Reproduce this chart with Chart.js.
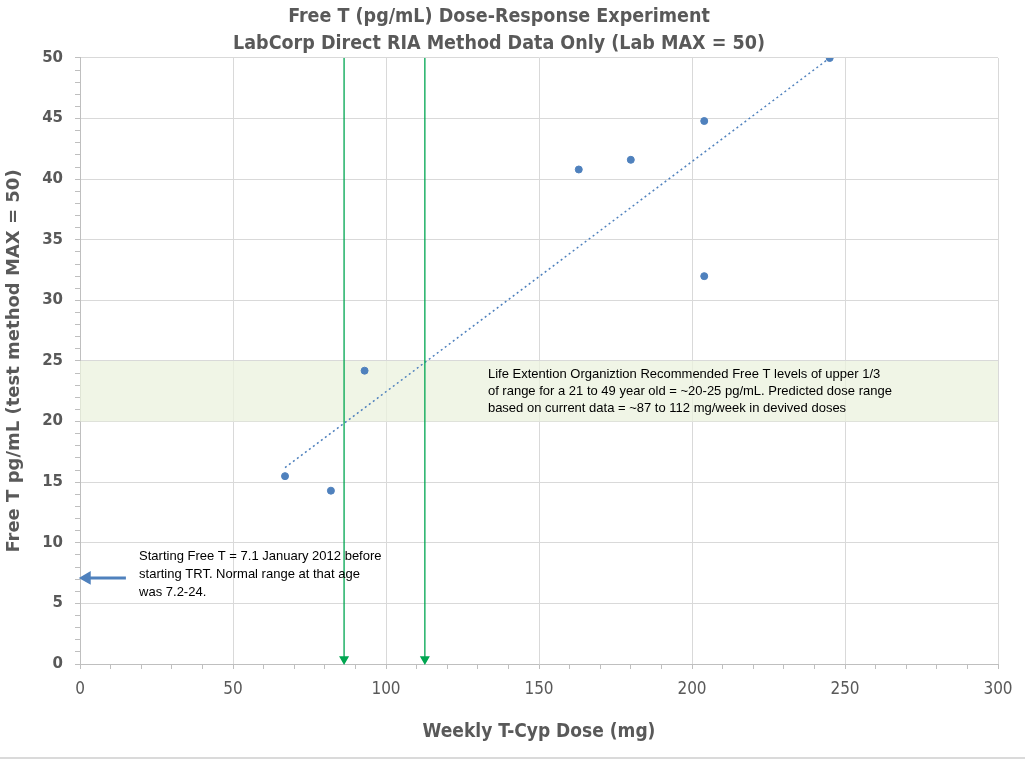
<!DOCTYPE html>
<html>
<head>
<meta charset="utf-8">
<script src="https://cdn.jsdelivr.net/npm/chart.js@4.4.0/dist/chart.umd.min.js"></script>
<style>
  body { margin: 0; background: #fff; }
  #wrap { width: 1025px; height: 760px; position: relative; }
  #edge { position: absolute; left: 0; top: 757px; width: 1025px; height: 2px; background: #dadada; }
</style>
</head>
<body>
<div id="wrap"><canvas id="myChart"></canvas><div id="edge"></div></div>
<script>
// measured data
const doses = [67, 82, 93, 163, 180, 204, 204, 245];
const freeT = [15.5, 14.3, 24.2, 40.8, 41.6, 44.8, 32.0, 50.0];

// dotted trend line ends
const trendX = [67, 245];
const trendY = [16.2, 50];

// recommended range and predicted doses
const bandY = [20, 25];
const bandX = [0, 300];
const doseRange = [86.3, 112.7];

// starting value marker
const startFreeT = 7.1;
const startArrowX = [15, 2.2];

const noteRange = [
  'Life Extention Organiztion Recommended Free T levels of upper 1/3',
  'of range for a 21 to 49 year old = ~20-25 pg/mL. Predicted dose range',
  'based on current data = ~87 to 112 mg/week in devived doses'
];
const noteStart = [
  'Starting Free T = 7.1 January 2012 before',
  'starting TRT. Normal range at that age',
  'was 7.2-24.'
];

const narrow = "'Liberation Sans Narrow', 'DejaVu Sans Condensed', sans-serif";
const textGray = '#595959';

const notesPlugin = {
  id: 'notes',
  afterDatasetsDraw(chart) {
    const c = chart.ctx, x = chart.scales.x, y = chart.scales.y;
    c.save();
    c.font = "13px 'Liberation Sans', Arial, sans-serif";
    c.fillStyle = '#000';
    c.textBaseline = 'middle';
    noteRange.forEach(function(t, i) {
      c.fillText(t, x.getPixelForValue(133.3), y.getPixelForValue(23.9) + i * 17);
    });
    noteStart.forEach(function(t, i) {
      c.fillText(t, x.getPixelForValue(19.3), y.getPixelForValue(8.9) + i * 18);
    });
    c.restore();
  }
};

const ctx = document.getElementById('myChart').getContext('2d');
new Chart(ctx, {
  type: 'scatter',
  data: {
    datasets: [
      {
        type: 'line',
        order: 10,
        data: bandX.map(function(v) { return { x: v, y: bandY[1] }; }),
        borderWidth: 0,
        pointRadius: 0,
        fill: '+1',
        backgroundColor: 'rgba(235,241,222,0.75)'
      },
      {
        type: 'line',
        order: 11,
        data: bandX.map(function(v) { return { x: v, y: bandY[0] }; }),
        borderWidth: 0,
        pointRadius: 0,
        fill: false
      },
      {
        type: 'line',
        order: 5,
        data: trendX.map(function(v, i) { return { x: v, y: trendY[i] }; }),
        borderColor: '#4f81bd',
        borderWidth: 1.5,
        borderDash: [2, 3],
        pointRadius: 0
      },
      {
        order: 0,
        data: doses.map(function(v, i) { return { x: v, y: freeT[i] }; }),
        backgroundColor: '#4f81bd',
        borderColor: '#4f81bd',
        pointRadius: 3.5
      },
      {
        type: 'line',
        order: 2,
        data: [{ x: doseRange[0], y: 50 }, { x: doseRange[0], y: 0.4 }],
        borderColor: '#00a651',
        backgroundColor: '#00a651',
        borderWidth: 1.3,
        pointRadius: [0, 4.5],
        pointStyle: 'triangle',
        rotation: 180,
        clip: false
      },
      {
        type: 'line',
        order: 2,
        data: [{ x: doseRange[1], y: 50 }, { x: doseRange[1], y: 0.4 }],
        borderColor: '#00a651',
        backgroundColor: '#00a651',
        borderWidth: 1.3,
        pointRadius: [0, 4.5],
        pointStyle: 'triangle',
        rotation: 180,
        clip: false
      },
      {
        type: 'line',
        order: 2,
        data: startArrowX.map(function(v) { return { x: v, y: startFreeT }; }),
        borderColor: '#4f81bd',
        backgroundColor: '#4f81bd',
        borderWidth: 3,
        pointRadius: [0, 5],
        pointStyle: 'triangle',
        rotation: 270,
        clip: false
      }
    ]
  },
  options: {
    responsive: true,
    maintainAspectRatio: false,
    animation: false,
    layout: { padding: { left: 0, right: 27, top: 0, bottom: 0 } },
    plugins: {
      legend: { display: false },
      tooltip: { enabled: false },
      title: {
        display: true,
        text: ['Free T (pg/mL) Dose-Response Experiment', 'LabCorp Direct RIA Method Data Only (Lab MAX = 50)'],
        color: textGray,
        font: { family: narrow, size: 19.5, weight: 'bold', lineHeight: 1.41 },
        padding: { top: 3, bottom: 0 }
      }
    },
    scales: {
      x: {
        type: 'linear',
        min: 0,
        max: 300,
        afterFit: function(s) { s.height = 96; },
        ticks: {
          stepSize: 10,
          autoSkip: false,
          maxRotation: 0,
          color: textGray,
          padding: 10,
          font: { family: narrow, size: 17 },
          callback: function(v) { return v % 50 === 0 ? v : ''; }
        },
        grid: {
          color: function(c) { return c.tick && c.tick.value % 50 === 0 ? '#d9d9d9' : 'rgba(0,0,0,0)'; },
          tickColor: '#bfbfbf',
          tickLength: 5
        },
        border: { color: '#bfbfbf' },
        title: {
          display: true,
          text: 'Weekly T-Cyp Dose (mg)',
          color: textGray,
          font: { family: narrow, size: 19, weight: 'bold' },
          padding: { top: 0, bottom: 17 }
        }
      },
      y: {
        min: 0,
        max: 50,
        afterFit: function(s) { s.width = 80; },
        ticks: {
          stepSize: 1,
          autoSkip: false,
          color: textGray,
          padding: 12,
          font: { family: "'DejaVu Sans', Verdana, sans-serif", size: 15, weight: 'bold' },
          callback: function(v) { return v % 5 === 0 ? v : ''; }
        },
        grid: {
          color: function(c) { return c.tick && c.tick.value % 5 === 0 ? '#d9d9d9' : 'rgba(0,0,0,0)'; },
          tickColor: '#bfbfbf',
          tickLength: 5
        },
        border: { color: '#bfbfbf' },
        title: {
          display: true,
          text: 'Free T pg/mL (test method MAX = 50)',
          color: textGray,
          font: { family: "'DejaVu Sans', Verdana, sans-serif", size: 18, weight: 'bold' },
          padding: { top: 4, bottom: 0 }
        }
      }
    }
  },
  plugins: [notesPlugin]
});
</script>
</body>
</html>
